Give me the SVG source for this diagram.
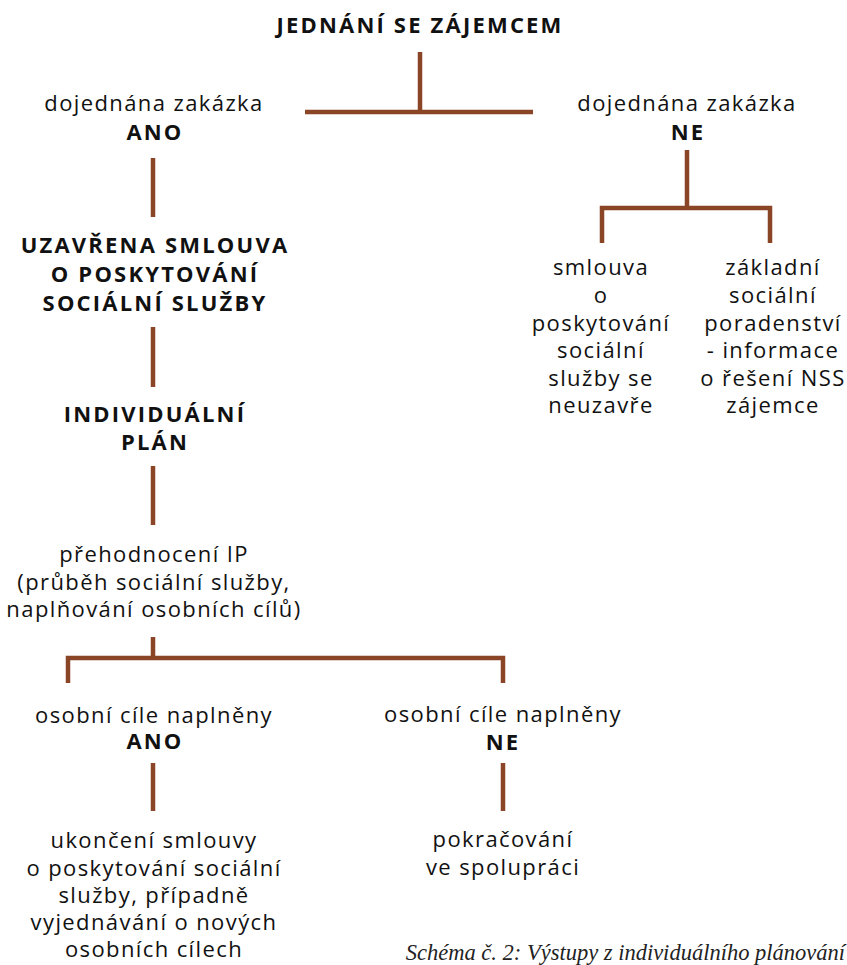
<svg xmlns="http://www.w3.org/2000/svg" width="847" height="965" viewBox="0 0 847 965">
<style>
text{font-family:"Open Sans","DejaVu Sans",sans-serif;font-size:22px;letter-spacing:1.4px;fill:#111;text-anchor:middle}
.b{font-weight:bold;letter-spacing:2.2px}
.cap{font-family:"Liberation Serif",serif;font-style:italic;font-size:22.5px;letter-spacing:0;fill:#222;text-anchor:end}
.ln{stroke:#8a4527;stroke-width:4.5;fill:none;stroke-linecap:butt}
</style>
<rect width="847" height="965" fill="#fff"/>
<g id="connectors" class="ln">
<path d="M420 52V112M305 112H533"/>
<path d="M153 158V217"/>
<path d="M687 150V208M602 243V208H770V243"/>
<path d="M153 327V387"/>
<path d="M153 466V525"/>
<path d="M153 637V658M68 683V658H503V683"/>
<path d="M153 763V811"/>
<path d="M503 763V811"/>
</g>
<g id="n-root"><text class="b" x="420" y="33">JEDNÁNÍ SE ZÁJEMCEM</text></g>
<g id="n-ano"><text x="154" y="111">dojednána zakázka</text><text class="b" x="155" y="140">ANO</text></g>
<g id="n-ne"><text x="687" y="111">dojednána zakázka</text><text class="b" x="688" y="140">NE</text></g>
<g id="n-smlouva"><text class="b" x="155" y="253">UZAVŘENA SMLOUVA</text><text class="b" x="155" y="282">O POSKYTOVÁNÍ</text><text class="b" x="155" y="311">SOCIÁLNÍ SLUŽBY</text></g>
<g id="n-neuzavre"><text x="601" y="275">smlouva</text><text x="601" y="303">o</text><text x="601" y="331">poskytování</text><text x="601" y="358">sociální</text><text x="601" y="386">služby se</text><text x="601" y="413">neuzavře</text></g>
<g id="n-poradenstvi"><text x="773" y="275">základní</text><text x="773" y="303">sociální</text><text x="773" y="331">poradenství</text><text x="773" y="358">- informace</text><text x="773" y="386">o řešení NSS</text><text x="773" y="413">zájemce</text></g>
<g id="n-ip"><text class="b" x="155" y="422">INDIVIDUÁLNÍ</text><text class="b" x="155" y="450">PLÁN</text></g>
<g id="n-prehodnoceni"><text x="154" y="562">přehodnocení IP</text><text x="154" y="590">(průběh sociální služby,</text><text x="154" y="617">naplňování osobních cílů)</text></g>
<g id="n-cile-ano"><text x="154" y="723">osobní cíle naplněny</text><text class="b" x="155" y="749">ANO</text></g>
<g id="n-cile-ne"><text x="503" y="722">osobní cíle naplněny</text><text class="b" x="503" y="750">NE</text></g>
<g id="n-ukonceni"><text x="154" y="848">ukončení smlouvy</text><text x="154" y="876">o poskytování sociální</text><text x="154" y="903">služby, případně</text><text x="154" y="930">vyjednávání o nových</text><text x="154" y="957">osobních cílech</text></g>
<g id="n-pokracovani"><text x="503" y="847">pokračování</text><text x="503" y="875">ve spolupráci</text></g>
<text class="cap" x="845" y="960">Schéma č. 2: Výstupy z individuálního plánování</text>
</svg>
